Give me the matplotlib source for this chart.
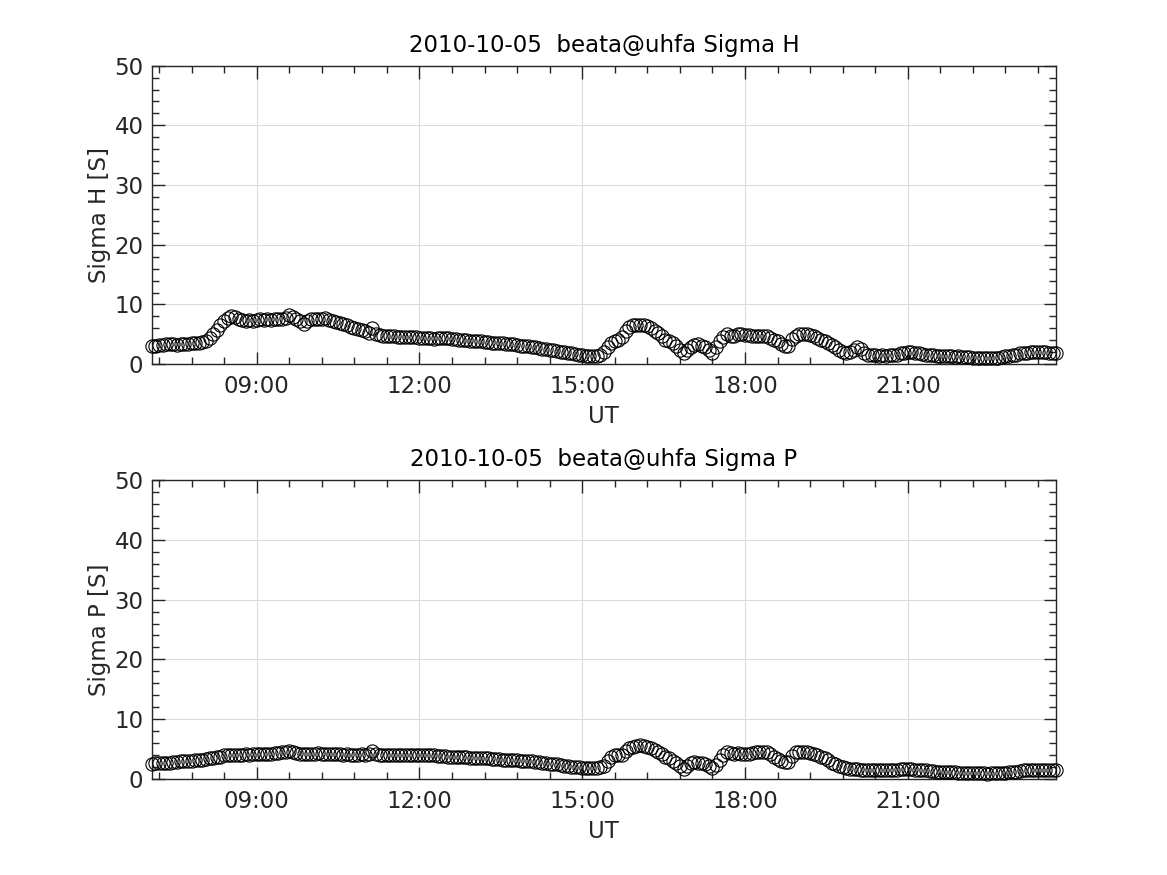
import matplotlib
matplotlib.use('Agg')
import matplotlib.pyplot as plt
import matplotlib.dates as mdates
from matplotlib.ticker import MultipleLocator, AutoMinorLocator
import pandas as pd

# 4 minute samples, 2010-10-05 07:04 .. 23:44 UT
times = pd.date_range('2010-10-05 07:04', periods=251, freq='4min')

# one row per hour (15 samples), starting 07:04
sigma_h = [
    3.0, 3.1, 3.2, 3.2, 3.3, 3.3, 3.3, 3.2, 3.4, 3.3, 3.4, 3.5, 3.5, 3.6, 3.7,
    3.9, 4.3, 5.0, 5.8, 6.6, 7.2, 7.8, 8.1, 7.9, 7.6, 7.4, 7.3, 7.4, 7.3, 7.4,
    7.5, 7.4, 7.5, 7.4, 7.5, 7.5, 7.6, 7.7, 8.3, 7.9, 7.6, 7.3, 6.8, 7.2, 7.5,
    7.6, 7.5, 7.6, 7.7, 7.4, 7.2, 7.0, 6.9, 6.7, 6.5, 6.3, 6.1, 5.9, 5.7, 5.5,
    5.3, 6.0, 5.1, 4.9, 4.8, 4.8, 4.7, 4.7, 4.6, 4.6, 4.6, 4.5, 4.5, 4.5, 4.4,
    4.4, 4.4, 4.3, 4.2, 4.3, 4.4, 4.3, 4.3, 4.2, 4.2, 4.1, 4.1, 4.0, 3.9, 3.9,
    3.8, 3.8, 3.7, 3.7, 3.6, 3.6, 3.5, 3.5, 3.4, 3.4, 3.3, 3.2, 3.1, 3.1, 3.0,
    2.9, 2.8, 2.7, 2.6, 2.5, 2.4, 2.3, 2.2, 2.1, 2.0, 1.9, 1.8, 1.7, 1.6, 1.5,
    1.4, 1.3, 1.3, 1.4, 1.5, 2.0, 2.8, 3.5, 3.8, 4.0, 4.5, 5.6, 6.3, 6.5, 6.6,
    6.6, 6.6, 6.4, 6.0, 5.6, 5.2, 4.7, 4.1, 3.8, 3.5, 3.0, 2.4, 1.9, 2.3, 2.9,
    3.2, 3.3, 3.1, 2.8, 2.4, 1.9, 2.8, 3.8, 4.5, 5.0, 4.7, 4.8, 5.1, 5.0, 4.9,
    4.9, 4.8, 4.7, 4.8, 4.7, 4.7, 4.4, 4.1, 3.8, 3.4, 3.1, 3.0, 4.2, 4.8, 5.0,
    5.1, 5.0, 4.9, 4.7, 4.4, 4.1, 3.8, 3.5, 3.2, 2.8, 2.4, 2.1, 1.9, 2.0, 2.3,
    2.8, 2.6, 1.8, 1.6, 1.5, 1.5, 1.4, 1.5, 1.4, 1.5, 1.5, 1.6, 1.8, 1.9, 2.0,
    2.1, 1.9, 1.8, 1.7, 1.6, 1.5, 1.5, 1.4, 1.4, 1.4, 1.3, 1.3, 1.2, 1.3, 1.2,
    1.2, 1.2, 1.1, 1.1, 1.0, 1.0, 1.0, 1.1, 1.0, 1.1, 1.2, 1.3, 1.4, 1.5, 1.6,
    1.8, 1.9, 1.9, 2.0, 2.0, 2.1, 2.0, 2.0, 1.9, 1.8, 1.8,
]

sigma_p = [
    2.5, 2.6, 2.6, 2.7, 2.7, 2.7, 2.8, 2.8, 2.9, 2.9, 3.0, 3.0, 3.1, 3.2, 3.2,
    3.3, 3.4, 3.5, 3.6, 3.7, 3.9, 4.0, 3.9, 4.0, 4.0, 4.0, 4.1, 4.0, 4.1, 4.1,
    4.1, 4.2, 4.2, 4.2, 4.3, 4.3, 4.4, 4.5, 4.6, 4.5, 4.3, 4.2, 4.1, 4.2, 4.2,
    4.2, 4.3, 4.2, 4.2, 4.1, 4.1, 4.1, 4.1, 4.0, 4.1, 4.0, 4.0, 4.0, 4.1, 4.0,
    4.1, 4.7, 4.1, 4.0, 4.0, 4.0, 4.0, 3.9, 4.0, 4.0, 3.9, 3.9, 3.9, 3.9, 3.9,
    3.9, 3.9, 3.9, 3.9, 3.8, 3.8, 3.8, 3.7, 3.7, 3.7, 3.6, 3.6, 3.6, 3.5, 3.5,
    3.5, 3.4, 3.4, 3.4, 3.3, 3.3, 3.3, 3.2, 3.2, 3.1, 3.1, 3.1, 3.0, 3.0, 2.9,
    2.9, 2.8, 2.8, 2.7, 2.6, 2.5, 2.5, 2.4, 2.3, 2.2, 2.1, 2.0, 2.0, 1.9, 1.8,
    1.8, 1.8, 1.8, 1.8, 1.9, 2.2, 2.9, 3.6, 3.9, 3.9, 4.0, 4.6, 5.1, 5.3, 5.5,
    5.6, 5.5, 5.3, 5.1, 4.8, 4.5, 4.1, 3.7, 3.4, 3.0, 2.6, 2.1, 1.7, 2.2, 2.6,
    2.8, 2.7, 2.7, 2.5, 2.2, 1.8, 2.3, 3.2, 4.0, 4.4, 4.3, 4.2, 4.3, 4.2, 4.2,
    4.2, 4.3, 4.4, 4.5, 4.4, 4.4, 4.1, 3.7, 3.3, 3.0, 2.8, 2.8, 3.8, 4.4, 4.5,
    4.5, 4.4, 4.3, 4.1, 3.9, 3.7, 3.4, 3.1, 2.7, 2.4, 2.1, 1.9, 1.8, 1.7, 1.6,
    1.6, 1.5, 1.5, 1.4, 1.4, 1.4, 1.4, 1.4, 1.4, 1.4, 1.4, 1.5, 1.6, 1.7, 1.7,
    1.6, 1.5, 1.5, 1.4, 1.4, 1.3, 1.3, 1.2, 1.2, 1.2, 1.1, 1.1, 1.1, 1.0, 1.0,
    1.0, 1.0, 0.9, 0.9, 0.9, 0.9, 0.8, 0.9, 0.9, 0.9, 1.0, 1.0, 1.1, 1.1, 1.2,
    1.3, 1.4, 1.4, 1.4, 1.4, 1.4, 1.5, 1.4, 1.4, 1.4, 1.4,
]

panels = [
    (sigma_h, '2010-10-05  beata@uhfa Sigma H', 'Sigma H [S]'),
    (sigma_p, '2010-10-05  beata@uhfa Sigma P', 'Sigma P [S]'),
]

dark = '#262626'
fs = 16.5
plt.rcParams['font.family'] = ['DejaVu Sans']
plt.rcParams['font.size'] = fs

fig = plt.figure(figsize=(11.67, 8.75), dpi=100)
positions = [[0.13, 0.5838, 0.775, 0.3412], [0.13, 0.11, 0.775, 0.3412]]

for (vals, title, ylabel), pos in zip(panels, positions):
    ax = fig.add_axes(pos)
    ax.plot(times, vals, 'o', mfc='none', mec='black', ms=9.5, mew=0.8, clip_on=False, zorder=3)
    ax.set_xlim(times[0], times[-1])
    ax.set_ylim(0, 50)
    ax.yaxis.set_major_locator(MultipleLocator(10))
    ax.yaxis.set_minor_locator(MultipleLocator(2))
    ax.xaxis.set_major_locator(mdates.HourLocator(byhour=range(0, 24, 3)))
    ax.xaxis.set_major_formatter(mdates.DateFormatter('%H:%M'))
    ax.xaxis.set_minor_locator(AutoMinorLocator(5))
    ax.grid(True, which='major', color='#dcdcdc', lw=0.8)
    ax.set_axisbelow(True)
    ax.tick_params(which='both', direction='in', top=True, right=True, colors=dark, labelcolor=dark, width=1.0)
    ax.tick_params(which='major', length=9, labelsize=fs)
    ax.tick_params(axis='x', which='major', pad=8)
    ax.tick_params(axis='y', which='major', pad=6)
    ax.tick_params(which='minor', length=5)
    for sp in ax.spines.values():
        sp.set_color(dark)
        sp.set_linewidth(1.0)
    ax.set_title(title, fontsize=fs, color='black', pad=10)
    ax.set_ylabel(ylabel, fontsize=fs, color=dark, labelpad=2)
    ax.set_xlabel('UT', fontsize=fs, color=dark, labelpad=5)

fig.savefig('out.png', dpi=100)
